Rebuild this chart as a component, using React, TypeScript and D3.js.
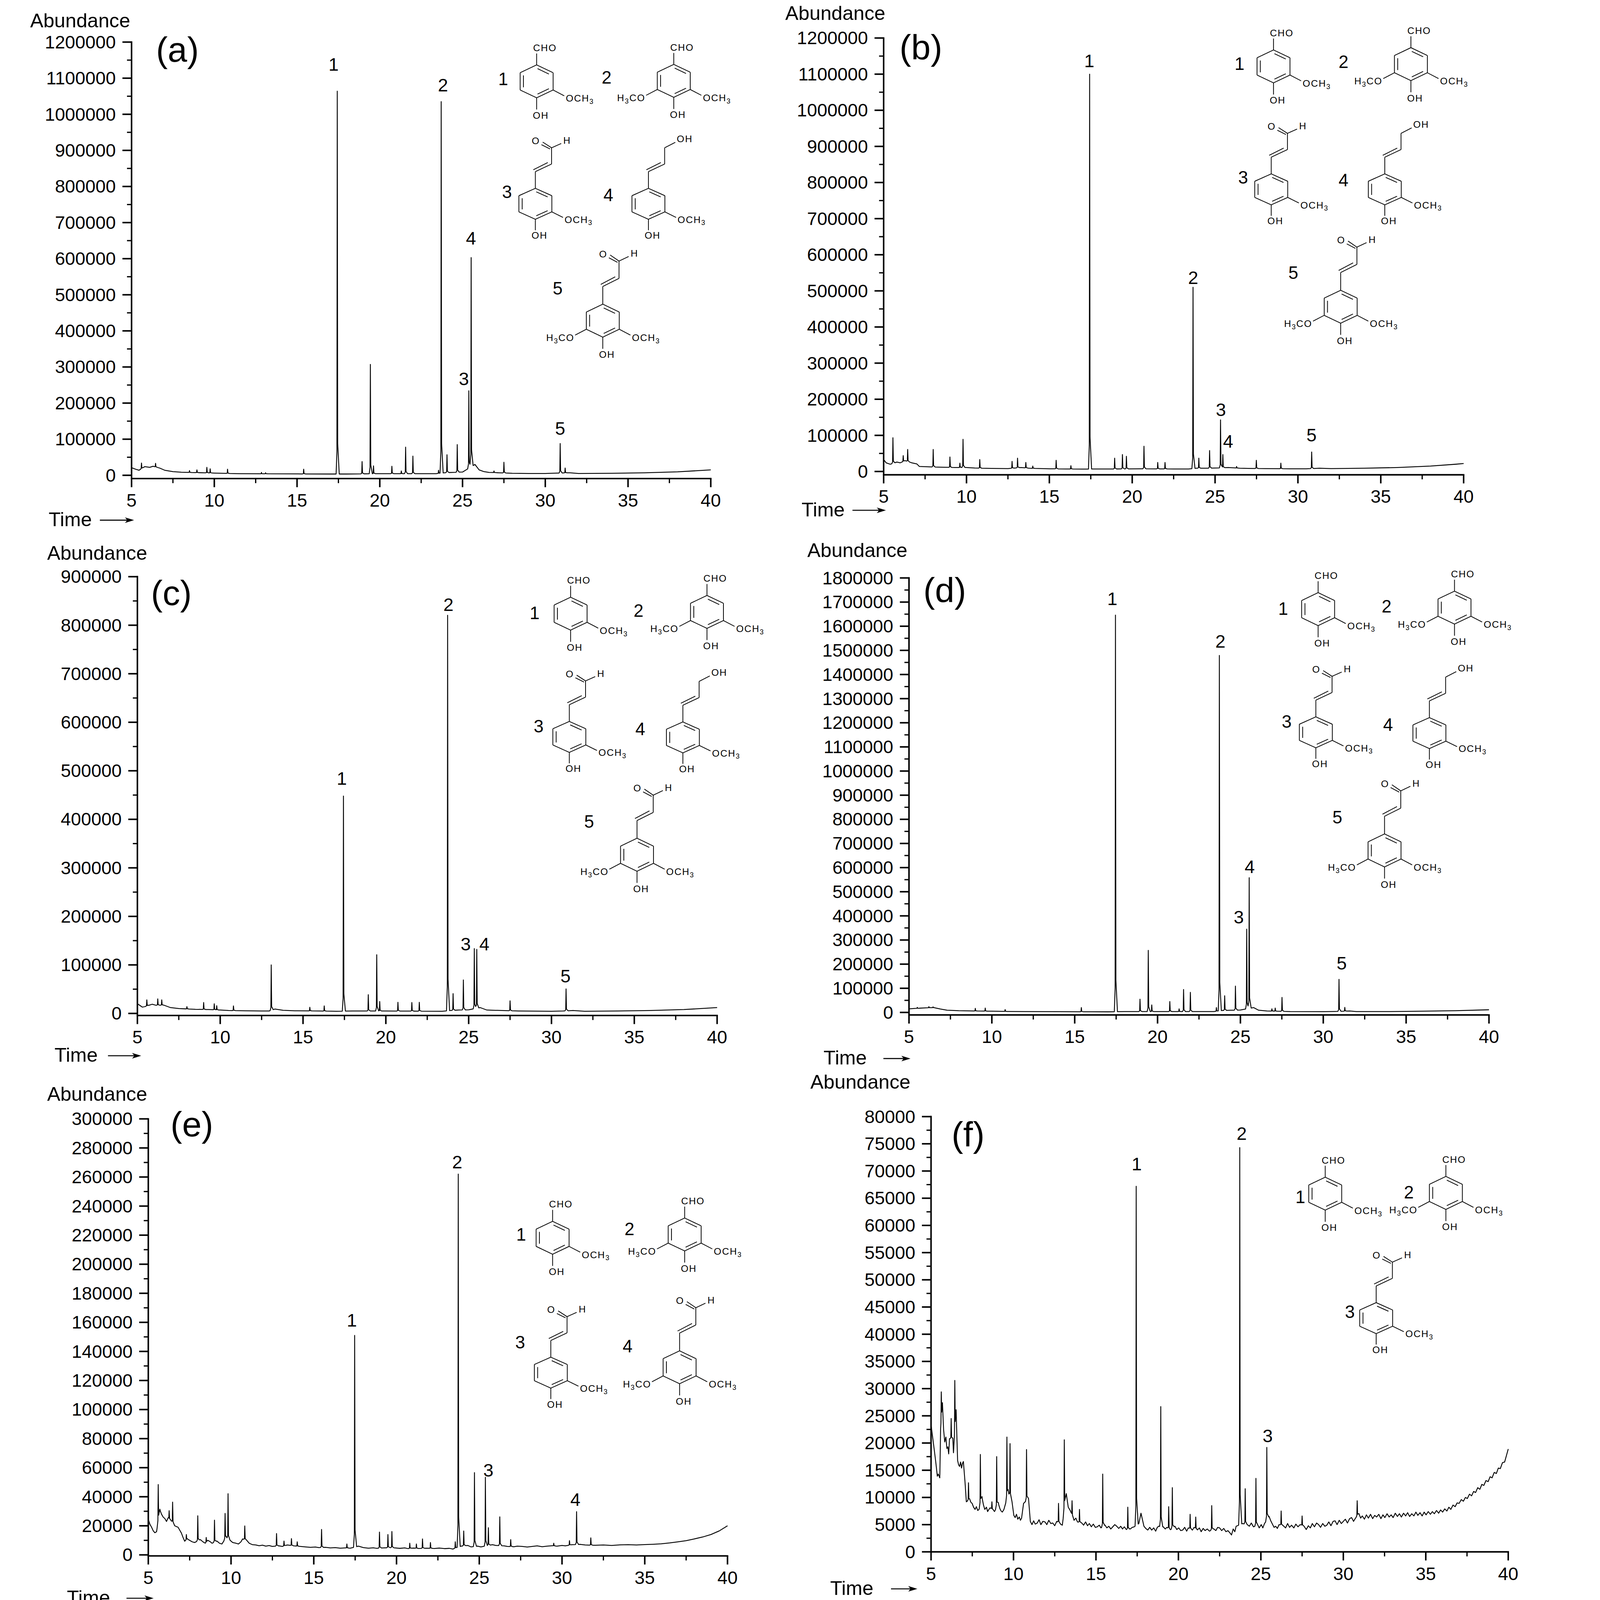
import React, { useEffect, useRef } from "react";
import * as d3 from "d3";

type Pt = [number, number];
type PeakLabel = [string, number, number]; // peak number, time (min), abundance at label centre

const FONT = "'Liberation Sans', Arial, Helvetica, sans-serif";
const W = 6067;
const H = 6312;

// retention time axis, shared by all six chromatograms
const timeTicks = [5, 10, 15, 20, 25, 30, 35, 40];
const timeMinorTicks = [7.5, 12.5, 17.5, 22.5, 27.5, 32.5, 37.5];

// ---------- (a) ----------
const baseA: Pt[] = [[5, 21000], [5.3, 16000], [5.45, 14000], [5.8, 24000], [6.1, 22000], [6.3, 25000], [6.7, 20000], [7.0, 14000], [7.5, 10000], [8.0, 8500], [8.8, 7500], [9.4, 7000], [10.0, 6000], [10.5, 5500], [11.5, 4500], [13, 4200], [15, 3800], [17, 3500], [18, 3500], [19, 4000], [20, 4500], [21, 4500], [22.5, 4500], [23.4, 4500], [23.9, 7000], [24.4, 8000], [25.0, 9000], [25.75, 30000], [26.0, 15000], [26.3, 10000], [26.6, 8000], [27.2, 7000], [28, 5500], [29, 5000], [30, 5000], [30.7, 6000], [31.5, 7000], [32, 5000], [34, 5500], [36, 7000], [38, 9500], [40, 15000]];
const peaksA: Pt[] = [[5.6, 34000], [6.45, 33000], [8.5, 13000], [8.95, 15000], [9.55, 22000], [9.75, 18000], [10.8, 17000], [12.85, 8000], [13.1, 7000], [15.4, 17000], [17.43, 1064000], [18.93, 38000], [19.43, 307000], [19.62, 26000], [20.73, 25000], [21.3, 12000], [21.56, 78000], [22.0, 53000], [23.55, 14000], [23.71, 1035000], [24.06, 57000], [24.68, 85000], [25.38, 234000], [25.52, 603000], [26.9, 12000], [27.5, 36000], [30.9, 88000], [31.2, 20000]];
const labelsA: PeakLabel[] = [["1", 17.21, 1138000], ["2", 23.82, 1080600], ["3", 25.08, 267500], ["4", 25.51, 656500], ["5", 30.9, 129900]];

// ---------- (b) ----------
const baseB: Pt[] = [[5, 33000], [5.15, 24000], [5.4, 20000], [5.8, 26000], [6.0, 24000], [6.3, 30000], [6.7, 24000], [7.0, 21000], [7.15, 14000], [7.6, 13000], [8.3, 12000], [9.3, 11000], [10.0, 11000], [10.5, 9500], [11.5, 8500], [12.5, 8000], [13.3, 11000], [13.8, 9000], [15, 7500], [16, 7000], [17, 6500], [18, 7000], [19, 7000], [20.5, 7500], [22.5, 7000], [23.4, 7000], [23.9, 9000], [24.5, 9000], [25.0, 9500], [25.8, 11000], [26.5, 9000], [27, 8500], [28, 8000], [29.5, 7500], [30.5, 7500], [31.3, 9000], [32, 8000], [34, 9000], [36, 11000], [38, 15000], [39.5, 20000], [40, 22000]];
const peaksB: Pt[] = [[5.56, 93500], [6.18, 44000], [6.45, 61000], [7.99, 61000], [9.0, 40000], [9.6, 23000], [9.79, 89000], [10.8, 33000], [12.75, 28000], [13.08, 37000], [13.58, 25000], [14.0, 15000], [15.41, 31000], [16.3, 16000], [17.43, 1100000], [18.94, 37000], [19.41, 47000], [19.65, 42000], [20.71, 70000], [21.54, 25000], [21.98, 25000], [23.67, 510000], [24.02, 37000], [24.67, 58000], [25.33, 143000], [25.47, 47000], [26.3, 14000], [27.49, 31000], [28.97, 23000], [30.83, 54000]];
const labelsB: PeakLabel[] = [["1", 17.41, 1136800], ["2", 23.68, 536100], ["3", 25.35, 171200], ["4", 25.79, 82800], ["5", 30.82, 100300]];

// ---------- (c) ----------
const baseC: Pt[] = [[5, 20000], [5.3, 13000], [5.45, 14000], [5.9, 19000], [6.1, 17000], [6.6, 17000], [7.0, 12000], [7.5, 10000], [8.5, 8500], [9.3, 8000], [10.0, 7000], [10.5, 6000], [11.5, 5500], [12.5, 5000], [12.95, 5000], [13.3, 9000], [13.8, 6500], [14.5, 5500], [16, 5000], [17, 4500], [18, 5000], [20, 5000], [23.4, 4500], [23.9, 6000], [24.4, 7000], [25.0, 7500], [25.7, 12000], [26.1, 7000], [27, 6000], [28, 5000], [30, 4500], [30.7, 5000], [31.3, 6000], [32, 4500], [34, 5000], [36, 6000], [38, 8000], [40, 12000]];
const peaksC: Pt[] = [[5.57, 28000], [6.23, 30000], [6.47, 28000], [7.99, 14000], [9.0, 22500], [9.64, 20000], [9.79, 16000], [10.8, 15500], [13.08, 100000], [15.41, 12700], [16.28, 15500], [17.44, 448000], [18.94, 38700], [19.45, 121000], [19.63, 24600], [20.73, 23000], [21.57, 22500], [22.02, 23000], [23.73, 820500], [24.06, 40800], [24.68, 69000], [25.34, 133600], [25.49, 132000], [27.5, 26000], [30.88, 50600]];
const labelsC: PeakLabel[] = [["1", 17.34, 483700], ["2", 23.78, 842500], ["3", 24.82, 142600], ["4", 25.95, 142600], ["5", 30.85, 76800]];

// ---------- (d) ----------
const baseD: Pt[] = [[5, 15000], [5.5, 17000], [6.0, 19000], [6.5, 20000], [6.9, 14000], [7.3, 9000], [8, 7000], [9, 6000], [10, 5000], [11, 4000], [12, 3500], [14, 3000], [17, 2500], [18, 3500], [19, 3500], [20, 3500], [23.4, 3500], [23.9, 8000], [24.4, 9000], [25.0, 10000], [25.8, 20000], [26.1, 9000], [26.6, 6000], [27.2, 5000], [28, 3500], [30, 3000], [30.7, 4000], [31.6, 6000], [32, 3500], [34, 3500], [36, 5000], [38, 7000], [40, 11000]];
const peaksD: Pt[] = [[5.5, 21000], [6.2, 24000], [6.45, 23000], [9.0, 17000], [9.6, 18000], [10.8, 12000], [15.4, 20000], [17.46, 1646000], [18.94, 55000], [19.44, 257000], [19.65, 31000], [20.74, 45000], [21.3, 15000], [21.57, 95000], [21.98, 83000], [23.55, 20000], [23.73, 1479000], [24.05, 69000], [24.7, 109000], [25.38, 345000], [25.53, 558000], [26.9, 15000], [27.1, 18000], [27.51, 62000], [30.95, 137000], [31.3, 21000]];
const labelsD: PeakLabel[] = [["1", 17.27, 1713900], ["2", 23.79, 1536400], ["3", 24.9, 394900], ["4", 25.56, 603900], ["5", 31.11, 203700]];

// ---------- (e) ----------
const baseE: Pt[] = [[5.0, 24500], [5.1, 21000], [5.2, 19000], [5.3, 16500], [5.4, 15200], [5.5, 16000], [5.7, 31000], [5.8, 28000], [5.9, 26000], [6.0, 25000], [6.1, 23000], [6.2, 25500], [6.35, 24000], [6.6, 20000], [6.7, 19500], [6.8, 19000], [6.9, 17000], [7.0, 15000], [7.1, 12000], [7.2, 9400], [7.35, 11000], [7.5, 10000], [7.65, 9000], [7.8, 8500], [8.15, 10500], [8.3, 9000], [8.45, 8000], [8.6, 10000], [8.75, 9000], [8.85, 8000], [9.15, 9500], [9.3, 8000], [9.45, 7500], [9.7, 12000], [9.95, 10000], [10.1, 8500], [10.3, 8000], [10.45, 7500], [10.6, 9000], [10.7, 11000], [10.95, 10000], [11.1, 8000], [11.3, 7000], [11.5, 6800], [11.7, 6300], [11.9, 6700], [12.1, 6000], [12.3, 6400], [12.5, 5800], [12.9, 6200], [13.1, 5800], [13.4, 6800], [13.8, 6200], [14.2, 5800], [14.5, 5500], [14.8, 5200], [15.1, 5400], [15.3, 5000], [15.7, 5200], [16.0, 4800], [16.3, 5000], [16.6, 4600], [16.9, 4800], [17.2, 4600], [17.7, 6000], [18.0, 5000], [18.3, 4600], [18.6, 4900], [18.8, 4500], [19.2, 4800], [19.6, 5000], [19.9, 4800], [20.2, 4500], [20.5, 4800], [20.7, 4300], [21.0, 4700], [21.3, 4400], [21.8, 4600], [22.3, 4400], [22.6, 4700], [22.9, 4300], [23.2, 4500], [23.4, 4000], [23.9, 6000], [24.3, 6500], [24.5, 5500], [24.9, 6000], [25.1, 5500], [25.8, 7000], [26.0, 6500], [26.5, 6200], [26.7, 5800], [27.1, 5600], [27.3, 6000], [27.6, 5800], [27.9, 5400], [28.2, 5800], [28.5, 6200], [28.8, 5600], [29.1, 6000], [29.4, 6300], [29.7, 6000], [30.0, 6500], [30.2, 6200], [30.6, 7000], [31.1, 7200], [31.4, 6800], [32.0, 6600], [32.5, 6800], [33.0, 6500], [33.5, 6900], [34.0, 7000], [34.5, 6800], [35.0, 7100], [35.5, 7300], [36.0, 7600], [36.5, 8200], [37.0, 9000], [37.5, 9800], [38.0, 11000], [38.5, 12300], [39.0, 14000], [39.5, 16500], [40.0, 20000]];
const peaksE: Pt[] = [[5.6, 48400], [6.26, 30400], [6.47, 36300], [7.3, 14000], [7.99, 26900], [8.5, 12000], [9.0, 23900], [9.64, 28500], [9.82, 42100], [10.83, 19900], [12.75, 14700], [13.2, 9500], [13.65, 11200], [14.0, 9000], [15.47, 17500], [17.0, 7500], [17.47, 151000], [18.97, 15700], [19.48, 14000], [19.72, 16100], [20.8, 8000], [21.2, 7500], [21.57, 11000], [22.05, 8500], [23.55, 9000], [23.73, 262000], [24.06, 16400], [24.71, 56600], [25.37, 53400], [25.55, 18700], [26.24, 26200], [26.9, 10500], [29.5, 8000], [30.45, 9800], [30.88, 29700], [31.74, 11700]];
const labelsE: PeakLabel[] = [["1", 17.3, 161500], ["2", 23.67, 270200], ["3", 25.55, 58200], ["4", 30.81, 38000]];

// ---------- (f) ----------
const baseF: Pt[] = [[5.0, 23300], [5.1, 21000], [5.2, 18600], [5.29, 16400], [5.38, 13900], [5.44, 14300], [5.53, 13600], [5.58, 22500], [5.69, 27200], [5.76, 22500], [5.83, 20200], [5.9, 21100], [5.96, 19000], [6.02, 19300], [6.07, 18000], [6.12, 20800], [6.32, 20800], [6.36, 18200], [6.52, 25800], [6.61, 16800], [6.67, 16000], [6.73, 15700], [6.79, 16500], [6.85, 15400], [6.9, 16200], [6.96, 16600], [7.06, 12800], [7.14, 9200], [7.34, 9600], [7.42, 9100], [7.49, 8900], [7.58, 8200], [7.67, 7800], [7.75, 8300], [7.83, 7600], [7.91, 7800], [8.09, 10000], [8.18, 8600], [8.26, 7800], [8.36, 8200], [8.43, 7400], [8.49, 7700], [8.58, 8100], [8.77, 7700], [8.85, 7400], [9.08, 8900], [9.18, 7900], [9.25, 7500], [9.32, 7300], [9.42, 7800], [9.53, 9000], [9.67, 11000], [9.91, 9200], [10.02, 6700], [10.1, 6300], [10.18, 6900], [10.26, 6000], [10.35, 6400], [10.42, 5800], [10.49, 6200], [10.61, 8900], [10.91, 9800], [11.02, 5600], [11.12, 5000], [11.22, 5700], [11.32, 5100], [11.44, 5300], [11.55, 5900], [11.66, 5000], [11.78, 5600], [11.91, 5500], [12.02, 5000], [12.14, 5800], [12.26, 5200], [12.38, 5300], [12.5, 4800], [12.62, 5600], [12.85, 5100], [12.96, 4900], [13.2, 10700], [13.32, 8200], [13.44, 7600], [13.67, 5800], [13.78, 6200], [13.88, 5500], [14.14, 5300], [14.25, 4900], [14.37, 5500], [14.49, 4800], [14.6, 5200], [14.72, 4600], [14.84, 5100], [14.96, 4500], [15.08, 4600], [15.2, 4900], [15.3, 4400], [15.55, 4900], [15.66, 4400], [15.78, 4700], [15.9, 4200], [16.02, 4600], [16.14, 5000], [16.26, 4700], [16.38, 4300], [16.5, 4700], [16.61, 4200], [16.72, 4600], [16.84, 4100], [17.08, 4200], [17.2, 4500], [17.32, 4600], [17.6, 5200], [17.73, 7100], [17.91, 4700], [18.02, 4300], [18.14, 4000], [18.26, 4500], [18.38, 4000], [18.5, 4400], [18.62, 3800], [18.72, 4500], [18.8, 4700], [19.08, 4600], [19.2, 4200], [19.3, 4500], [19.5, 4000], [19.79, 4700], [19.9, 4100], [20.02, 4400], [20.14, 3900], [20.26, 4000], [20.38, 4500], [20.5, 3800], [20.6, 4400], [20.85, 4000], [20.95, 4500], [21.15, 4000], [21.27, 4400], [21.38, 3700], [21.5, 4300], [21.62, 3900], [21.75, 4200], [21.88, 3800], [22.15, 4200], [22.27, 3900], [22.38, 4500], [22.5, 4400], [22.62, 3900], [22.75, 4300], [22.88, 3700], [23.0, 3900], [23.12, 3500], [23.22, 3100], [23.32, 4200], [23.42, 3700], [23.5, 4700], [23.88, 5200], [24.18, 5000], [24.3, 4700], [24.42, 5300], [24.55, 4600], [24.82, 4900], [24.9, 4400], [25.02, 5000], [25.12, 4400], [25.22, 5200], [25.5, 6500], [25.6, 5700], [25.7, 5100], [25.8, 4500], [25.9, 4700], [26.0, 4300], [26.1, 5000], [26.36, 4800], [26.5, 4400], [26.62, 5200], [26.74, 4500], [26.86, 4900], [27.0, 4400], [27.12, 5100], [27.25, 4600], [27.38, 5000], [27.62, 4700], [27.75, 4100], [27.88, 4800], [28.0, 4400], [28.12, 5200], [28.25, 4600], [28.38, 5300], [28.5, 5000], [28.62, 4500], [28.75, 5200], [28.88, 4700], [29.0, 4900], [29.12, 5500], [29.25, 4800], [29.38, 5600], [29.5, 5700], [29.62, 5000], [29.75, 5800], [29.88, 5200], [30.0, 5600], [30.12, 6000], [30.25, 5300], [30.38, 6100], [30.5, 6300], [30.62, 5600], [30.74, 6200], [30.95, 7000], [31.05, 6200], [31.15, 6600], [31.28, 6000], [31.4, 6800], [31.52, 6200], [31.65, 6900], [31.78, 6100], [31.9, 6700], [32.02, 6400], [32.15, 6900], [32.28, 6100], [32.4, 6800], [32.52, 6300], [32.65, 7000], [32.78, 6400], [32.9, 6800], [33.02, 6300], [33.15, 7100], [33.28, 6500], [33.4, 7000], [33.52, 6400], [33.65, 7100], [33.78, 6600], [33.9, 7200], [34.02, 6500], [34.15, 7000], [34.28, 6600], [34.4, 7300], [34.52, 6700], [34.65, 7200], [34.78, 6600], [34.9, 7300], [35.02, 6800], [35.15, 7400], [35.28, 6900], [35.4, 7400], [35.52, 7000], [35.65, 7600], [35.78, 7100], [35.9, 7700], [36.02, 7300], [36.15, 7900], [36.28, 7500], [36.4, 8200], [36.52, 7800], [36.65, 8600], [36.78, 8300], [36.9, 9000], [37.02, 8900], [37.15, 9600], [37.28, 9300], [37.4, 10000], [37.52, 9800], [37.65, 10600], [37.78, 10300], [37.9, 11100], [38.02, 10900], [38.15, 11800], [38.28, 11500], [38.4, 12400], [38.52, 12200], [38.65, 13100], [38.78, 12900], [38.9, 13800], [39.02, 13600], [39.15, 14600], [39.28, 14400], [39.4, 15400], [39.52, 15300], [39.65, 16400], [39.78, 16500], [39.9, 17800], [40.0, 18900]];
const peaksF: Pt[] = [[5.62, 29400], [6.22, 24500], [6.44, 31500], [7.27, 12700], [7.99, 17900], [8.69, 9200], [8.98, 17500], [9.6, 21100], [9.79, 19900], [10.79, 18800], [12.73, 8900], [13.08, 20600], [13.55, 9400], [14.0, 7800], [15.41, 14300], [16.93, 8200], [17.44, 67200], [18.93, 26700], [19.41, 8300], [19.63, 11800], [20.71, 6900], [21.05, 6400], [22.02, 8500], [23.72, 74300], [24.05, 11600], [24.7, 13500], [25.36, 19200], [26.23, 7500], [27.5, 6600], [30.84, 9400]];
const labelsF: PeakLabel[] = [["1", 17.47, 71250], ["2", 23.84, 76900], ["3", 25.41, 21300]];

// width of a drawn peak: time offsets (min) and fraction of the peak height
const peakShape: Pt[] = [[-0.07, 0], [-0.02, 0.06], [0, 1], [0.025, 0.08], [0.12, 0]];

// V vanillin, S syringaldehyde, C coniferaldehyde, A coniferyl alcohol, P sinapaldehyde
type Kind = "V" | "S" | "C" | "A" | "P";
interface Mol { kind: Kind; num: string; ring: Pt; label: Pt }

interface Panel {
  letter: string;
  base: Pt[];
  peaks: Pt[];
  labels: PeakLabel[];
  yMax: number;
  yStep: number;
  mols: Mol[];
  x0: number; x1: number; yTop: number; y0: number; axisY: number;
  abundance: Pt; time: Pt; arrow: Pt; letterAt: Pt;
}

const panels: Panel[] = [
  {
    letter: "(a)", base: baseA, peaks: peaksA, labels: labelsA, yMax: 1200000, yStep: 100000,
    x0: 519, x1: 2804, yTop: 166, y0: 1875, axisY: 1888,
    abundance: [119, 81], time: [192, 2049], arrow: [394, 529], letterAt: [700, 196],
    mols: [
      { kind: "V", num: "1", ring: [2117, 321], label: [1985, 312] },
      { kind: "S", num: "2", ring: [2658, 319], label: [2393, 306] },
      { kind: "C", num: "3", ring: [2112, 804], label: [2000, 758] },
      { kind: "A", num: "4", ring: [2558, 804], label: [2400, 770] },
      { kind: "P", num: "5", ring: [2378, 1265], label: [2200, 1138] },
    ],
  },
  {
    letter: "(b)", base: baseB, peaks: peaksB, labels: labelsB, yMax: 1200000, yStep: 100000,
    x0: 3486, x1: 5774, yTop: 150, y0: 1860, axisY: 1873,
    abundance: [3098, 51], time: [3162, 2010], arrow: [3363, 3495], letterAt: [3633, 187],
    mols: [
      { kind: "V", num: "1", ring: [5024, 262], label: [4890, 252] },
      { kind: "S", num: "2", ring: [5566, 253], label: [5300, 244] },
      { kind: "C", num: "3", ring: [5015, 747], label: [4904, 700] },
      { kind: "A", num: "4", ring: [5463, 747], label: [5300, 711] },
      { kind: "P", num: "5", ring: [5289, 1210], label: [5102, 1077] },
    ],
  },
  {
    letter: "(c)", base: baseC, peaks: peaksC, labels: labelsC, yMax: 900000, yStep: 100000,
    x0: 542, x1: 2829, yTop: 2275, y0: 3998, axisY: 4006,
    abundance: [186, 2181], time: [215, 4162], arrow: [426, 557], letterAt: [676, 2339],
    mols: [
      { kind: "V", num: "1", ring: [2251, 2421], label: [2109, 2418] },
      { kind: "S", num: "2", ring: [2789, 2414], label: [2519, 2409] },
      { kind: "C", num: "3", ring: [2246, 2907], label: [2125, 2866] },
      { kind: "A", num: "4", ring: [2694, 2909], label: [2526, 2877] },
      { kind: "P", num: "5", ring: [2513, 3372], label: [2324, 3242] },
    ],
  },
  {
    letter: "(d)", base: baseD, peaks: peaksD, labels: labelsD, yMax: 1800000, yStep: 100000,
    x0: 3586, x1: 5874, yTop: 2280, y0: 3994, axisY: 4004,
    abundance: [3185, 2171], time: [3249, 4173], arrow: [3485, 3592], letterAt: [3727, 2328],
    mols: [
      { kind: "V", num: "1", ring: [5200, 2403], label: [5062, 2401] },
      { kind: "S", num: "2", ring: [5738, 2397], label: [5470, 2392] },
      { kind: "C", num: "3", ring: [5191, 2889], label: [5076, 2847] },
      { kind: "A", num: "4", ring: [5639, 2892], label: [5476, 2860] },
      { kind: "P", num: "5", ring: [5462, 3355], label: [5276, 3224] },
    ],
  },
  {
    letter: "(e)", base: baseE, peaks: peaksE, labels: labelsE, yMax: 300000, yStep: 20000,
    x0: 585, x1: 2870, yTop: 4414, y0: 6134, axisY: 6138,
    abundance: [186, 4316], time: [264, 6302], arrow: [499, 606], letterAt: [757, 4435],
    mols: [
      { kind: "V", num: "1", ring: [2180, 4883], label: [2056, 4871] },
      { kind: "S", num: "2", ring: [2701, 4870], label: [2483, 4849] },
      { kind: "C", num: "3", ring: [2173, 5415], label: [2052, 5296] },
      { kind: "P", num: "4", ring: [2681, 5394], label: [2476, 5311] },
    ],
  },
  {
    letter: "(f)", base: baseF, peaks: peaksF, labels: labelsF, yMax: 80000, yStep: 5000,
    x0: 3673, x1: 5950, yTop: 4405, y0: 6122, axisY: 6122,
    abundance: [3197, 4268], time: [3275, 6265], arrow: [3515, 3619], letterAt: [3819, 4475],
    mols: [
      { kind: "V", num: "1", ring: [5228, 4709], label: [5130, 4722] },
      { kind: "S", num: "2", ring: [5704, 4706], label: [5558, 4704] },
      { kind: "C", num: "3", ring: [5429, 5200], label: [5325, 5176] },
    ],
  },
];

const round = (t: number) => Math.round(t * 10000) / 10000;

// baseline plus one narrow peak per entry, evaluated at every vertex
function buildTrace(base: Pt[], peaks: Pt[]): Pt[] {
  const baseAt = d3.scaleLinear().domain(base.map((d) => d[0])).range(base.map((d) => d[1])).clamp(true);
  const bumps = peaks.map(([t, h]) => {
    const amp = h - baseAt(t);
    return d3.scaleLinear()
      .domain(peakShape.map((s) => t + s[0]))
      .range(peakShape.map((s) => s[1] * amp))
      .clamp(true);
  });
  const times = new Set<number>(base.map((d) => round(d[0])));
  peaks.forEach(([t]) => peakShape.forEach((s) => times.add(round(t + s[0]))));
  return [...times]
    .filter((t) => t >= 5 && t <= 40)
    .sort((a, b) => a - b)
    .map((t) => [t, baseAt(t) + d3.sum(bumps, (b) => b(t))] as Pt);
}

const RING: Pt[] = [[0, -65], [65, -34], [65, 34], [0, 65], [-65, 34], [-65, -34]];

function drawMol(g: d3.Selection<SVGGElement, unknown, null, undefined>, m: Mol) {
  const sy = m.kind === "C" || m.kind === "A" ? 0.94 : 1;
  const [cx, cy] = m.ring;
  const X = (v: number) => cx + v;
  const Y = (v: number) => cy + v * sy;
  const bond = (a: Pt, b: Pt) =>
    g.append("line")
      .attr("x1", X(a[0])).attr("y1", Y(a[1]))
      .attr("x2", X(b[0])).attr("y2", Y(b[1]))
      .attr("stroke", "#000").attr("stroke-width", 3);
  const atom = (px: number, py: number, parts: string[], anchor = "start") => {
    const t = g.append("text")
      .attr("x", X(px)).attr("y", Y(py))
      .attr("text-anchor", anchor)
      .attr("font-family", FONT).attr("font-size", 38).attr("letter-spacing", 3);
    parts.forEach((s, i) => {
      const sub = /^\d$/.test(s);
      const prevSub = i > 0 && /^\d$/.test(parts[i - 1]);
      t.append("tspan").attr("font-size", sub ? 27 : 38).attr("dy", sub ? 9 : prevSub ? -9 : 0).text(s);
    });
  };

  RING.forEach((a, i) => bond(a, RING[(i + 1) % 6]));
  [0, 2, 4].forEach((i) => {
    const a = RING[i].map((v) => v * 0.8) as Pt;
    const b = RING[(i + 1) % 6].map((v) => v * 0.8) as Pt;
    const dx = (b[0] - a[0]) * 0.07, dy = (b[1] - a[1]) * 0.07;
    bond([a[0] + dx, a[1] + dy], [b[0] - dx, b[1] - dy]);
  });

  bond([0, 65], [0, 111]);
  atom(-15, 147, ["OH"]);
  bond([65, 34], [109, 57]);
  atom(115, 80, ["OCH", "3"]);
  if (m.kind === "S" || m.kind === "P") {
    bond([-65, 34], [-109, 57]);
    atom(-112, 80, ["H", "3", "CO"], "end");
  }
  if (m.kind === "V" || m.kind === "S") {
    bond([0, -65], [0, -110]);
    atom(-14, -119, ["CHO"]);
  } else {
    bond([0, -65], [0, -135]);
    bond([0, -135], [64, -167]);
    bond([-8, -143], [49, -173]);
    bond([64, -167], [64, -235]);
    if (m.kind === "A") {
      bond([64, -235], [106, -258]);
      atom(112, -258, ["OH"]);
    } else {
      bond([64, -235], [29, -259]);
      bond([58, -230], [24, -248]);
      bond([64, -235], [102, -253]);
      atom(2, -250, ["O"], "middle");
      atom(110, -252, ["H"]);
    }
  }

  g.append("text")
    .attr("x", m.label[0]).attr("y", m.label[1])
    .attr("text-anchor", "middle").attr("dominant-baseline", "central")
    .attr("font-family", FONT).attr("font-size", 70)
    .text(m.num);
}

function drawPanel(svg: d3.Selection<SVGSVGElement, unknown, null, undefined>, p: Panel) {
  const g = svg.append("g");
  const x = d3.scaleLinear().domain([5, 40]).range([p.x0, p.x1]);
  const y = d3.scaleLinear().domain([0, p.yMax]).range([p.y0, p.yTop]);
  const major = d3.range(0, p.yMax + 1, p.yStep);
  const minor = d3.range(p.yStep / 2, p.yMax, p.yStep);

  const line = d3.line<Pt>().x((d) => x(d[0])).y((d) => y(d[1]));
  g.append("path")
    .attr("d", line(buildTrace(p.base, p.peaks)) ?? "")
    .attr("fill", "none").attr("stroke", "#000")
    .attr("stroke-width", 3.5).attr("stroke-linejoin", "round");

  const axis = g.append("g").attr("stroke", "#000").attr("stroke-width", 6);
  axis.append("line").attr("x1", p.x0).attr("x2", p.x0).attr("y1", p.yTop - 3).attr("y2", p.axisY);
  axis.append("line").attr("x1", p.x0 - 3).attr("x2", p.x1 + 3).attr("y1", p.axisY).attr("y2", p.axisY);
  axis.selectAll(".ym").data(major).join("line")
    .attr("x1", p.x0 - 36).attr("x2", p.x0).attr("y1", (d) => y(d)).attr("y2", (d) => y(d));
  axis.selectAll(".yn").data(minor).join("line").attr("stroke-width", 5)
    .attr("x1", p.x0 - 18).attr("x2", p.x0).attr("y1", (d) => y(d)).attr("y2", (d) => y(d));
  axis.selectAll(".xm").data(timeTicks).join("line")
    .attr("x1", (d) => x(d)).attr("x2", (d) => x(d)).attr("y1", p.axisY).attr("y2", p.axisY + 34);
  axis.selectAll(".xn").data(timeMinorTicks).join("line").attr("stroke-width", 5)
    .attr("x1", (d) => x(d)).attr("x2", (d) => x(d)).attr("y1", p.axisY).attr("y2", p.axisY + 18);

  const txt = g.append("g").attr("font-family", FONT).attr("fill", "#000");
  txt.selectAll(".yl").data(major).join("text")
    .attr("x", p.x0 - 62).attr("y", (d) => y(d))
    .attr("text-anchor", "end").attr("dominant-baseline", "central").attr("font-size", 72)
    .text((d) => String(d));
  txt.selectAll(".xl").data(timeTicks).join("text")
    .attr("x", (d) => x(d)).attr("y", p.axisY + 86)
    .attr("text-anchor", "middle").attr("dominant-baseline", "central").attr("font-size", 72)
    .text((d) => String(d));
  txt.selectAll(".pl").data(p.labels).join("text")
    .attr("x", (d) => x(d[1])).attr("y", (d) => y(d[2]))
    .attr("text-anchor", "middle").attr("dominant-baseline", "central").attr("font-size", 72)
    .text((d) => d[0]);

  txt.append("text").attr("x", p.abundance[0]).attr("y", p.abundance[1])
    .attr("dominant-baseline", "central").attr("font-size", 78).text("Abundance");
  txt.append("text").attr("x", p.time[0]).attr("y", p.time[1])
    .attr("dominant-baseline", "central").attr("font-size", 78).text("Time");
  txt.append("text").attr("x", p.letterAt[0]).attr("y", p.letterAt[1])
    .attr("text-anchor", "middle").attr("dominant-baseline", "central").attr("font-size", 138)
    .text(p.letter);

  const ay = p.time[1] + 3;
  const [a0, a1] = p.arrow;
  g.append("line").attr("x1", a0).attr("x2", a1 - 24).attr("y1", ay).attr("y2", ay)
    .attr("stroke", "#000").attr("stroke-width", 4);
  g.append("path")
    .attr("d", `M${a1},${ay} L${a1 - 36},${ay - 11} L${a1 - 27},${ay} L${a1 - 36},${ay + 11} Z`)
    .attr("fill", "#000");

  const mg = g.append("g");
  p.mols.forEach((m) => drawMol(mg, m));
}

export default function App() {
  const ref = useRef<SVGSVGElement | null>(null);

  useEffect(() => {
    document.body.style.margin = "0";
    document.body.style.overflow = "hidden";
    const svg = d3.select(ref.current as SVGSVGElement);
    svg.selectAll("*").remove();
    svg.append("rect").attr("width", W).attr("height", H).attr("fill", "#fff");
    panels.forEach((p) => drawPanel(svg, p));
  }, []);

  return (
    <svg
      ref={ref}
      viewBox={`0 0 ${W} ${H}`}
      preserveAspectRatio="xMinYMin meet"
      style={{ position: "absolute", left: 0, top: 0, width: "100vw", height: "100vh", display: "block" }}
    />
  );
}
